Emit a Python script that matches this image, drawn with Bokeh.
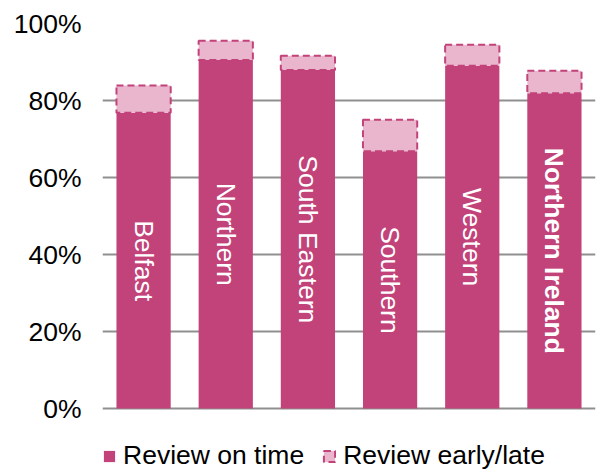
from bokeh.plotting import figure
from bokeh.models import ColumnDataSource, Range1d, NumeralTickFormatter, Legend, LegendItem, FixedTicker
from bokeh.core.properties import value
from bokeh.embed import file_html
from bokeh.resources import INLINE
import math

categories = ["Belfast", "Northern", "South Eastern", "Southern", "Western", "Northern Ireland"]
on_time = [0.768, 0.905, 0.879, 0.668, 0.890, 0.819]
total = [0.839, 0.955, 0.916, 0.750, 0.945, 0.877]
label_weight = ["normal", "normal", "normal", "normal", "normal", "bold"]
y_ticks = [0, 0.2, 0.4, 0.6, 0.8, 1.0]

DARK = "#C2427A"
LIGHT = "#EAB6CE"
FONT = "Liberation Sans"

xpos = [i + 0.5 for i in range(len(categories))]
src = ColumnDataSource(dict(
    x=xpos, cat=categories, on_time=on_time, total=total,
    mid=[v / 2 for v in on_time], weight=label_weight,
))

# frame spans down to the page bottom so the legend can sit inside it
p = figure(width=599, height=472, output_backend="svg", toolbar_location=None,
           x_range=Range1d(0, len(categories)), y_range=Range1d(-64 / 385, 1),
           min_border_left=102, min_border_right=4, min_border_top=23, min_border_bottom=0)
p.outline_line_color = None
p.xaxis.visible = False
p.xgrid.visible = False
p.ygrid.ticker = FixedTicker(ticks=y_ticks)
p.ygrid.grid_line_color = "#8f8f8f"
p.ygrid.grid_line_width = 2
p.yaxis.ticker = FixedTicker(ticks=y_ticks)
p.yaxis.formatter = NumeralTickFormatter(format="0%")
p.yaxis.axis_line_color = None
p.yaxis.major_tick_line_color = None
p.yaxis.minor_tick_line_color = None
p.yaxis.major_tick_out = 0
p.yaxis.major_tick_in = 0
p.yaxis.major_label_standoff = 21
p.yaxis.major_label_text_font = FONT
p.yaxis.major_label_text_font_size = "26.5px"
p.yaxis.major_label_text_color = "black"

r1 = p.vbar(x="x", top="on_time", bottom=0, width=0.66, source=src,
            fill_color=DARK, line_color=None)
r2 = p.vbar(x="x", top="total", bottom="on_time", width=0.66, source=src,
            fill_color=LIGHT, line_color=DARK, line_width=2, line_dash="7 4")

p.text(x="x", y="mid", text="cat", source=src, angle=-math.pi / 2,
       text_align="center", text_baseline="middle", text_color="white",
       text_font=value(FONT), text_font_size="26.5px", text_font_style="weight")

legend = Legend(items=[LegendItem(label="Review on time", renderers=[r1]),
                       LegendItem(label="Review early/late", renderers=[r2])],
                orientation="horizontal", location=(0, 1),
                glyph_width=14, glyph_height=14, label_standoff=7, spacing=18,
                padding=0, margin=0, border_line_color=None, background_fill_alpha=0,
                label_text_font=FONT, label_text_font_size="26.5px", label_text_color="black")
p.add_layout(legend, "center")

open("out.html", "w").write(file_html(p, INLINE))
